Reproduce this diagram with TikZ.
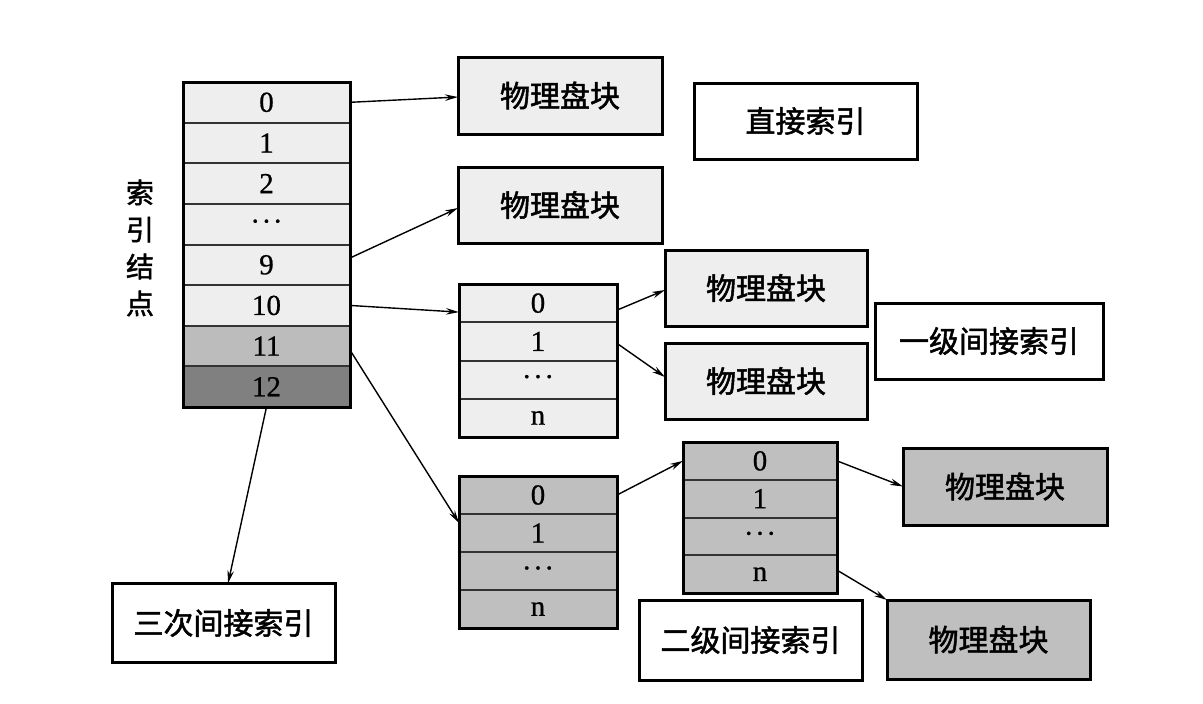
\documentclass[tikz,border=0pt]{standalone}
\usepackage{fontspec}
\setmainfont[FakeBold=0.8]{Liberation Serif}
\newfontfamily\cjk[FakeBold=1.6]{Noto Sans CJK SC}
\usetikzlibrary{arrows.meta}
\definecolor{lightg}{HTML}{EEEEEE}
\definecolor{midg}{HTML}{BFBFBF}
\definecolor{gel}{HTML}{BCBCBC}
\definecolor{darkg}{HTML}{808080}
\definecolor{divg}{HTML}{333333}
\tikzset{
  cell/.style={draw=divg, line width=2pt, fill=lightg, minimum width=#1,
    font=\fontsize{29}{29}\selectfont},
  frame/.style={draw=black, line width=3pt},
  blockbox/.style={draw=black, line width=3pt, fill=lightg,
    font=\cjk\fontsize{30}{30}\selectfont},
  labelbox/.style={draw=black, line width=3pt, fill=white,
    font=\cjk\fontsize{30}{30}\selectfont},
  arr/.style={draw=black, line width=1.4pt, -{Stealth[length=13pt,width=6.5pt]}},
}
\newcommand{\dotsrow}{\raisebox{0.22em}{.\kern4pt.\kern4pt.}}
\begin{document}
\begin{tikzpicture}[x=1pt, y=-1pt, every node/.style={inner sep=0pt, outer sep=0pt}]
\useasboundingbox[fill=white] (0,0) rectangle (1203,704);

% main index node table
\foreach \i/\t/\c in {0/0/lightg,1/1/lightg,2/2/lightg,3/\dotsrow/lightg,4/9/lightg,5/10/lightg,6/11/gel,7/12/darkg}{
  \node[cell=167pt, minimum height=40.625pt, fill=\c] (m\i) at (266.5, 82+40.625*\i+20.3125) {\t};
}
\draw[frame] (m0.north west) rectangle (m7.south east);

\node[font=\cjk\fontsize{28}{37}\selectfont, align=center] (lbl) at (140,248) {索\\引\\结\\点};

% first-level table
\foreach \i/\t in {0/0,1/1,2/\dotsrow,3/n}{
  \node[cell=158pt, minimum height=38.25pt] (a\i) at (538, 284+38.25*\i+19.125) {\t};
}
\draw[frame] (a0.north west) rectangle (a3.south east);

% second-level tables
\foreach \i/\t in {0/0,1/1,2/\dotsrow,3/n}{
  \node[cell=158pt, minimum height=38pt, fill=midg] (b\i) at (538, 476+38*\i+19) {\t};
}
\draw[frame] (b0.north west) rectangle (b3.south east);

\foreach \i/\t in {0/0,1/1,2/\dotsrow,3/n}{
  \node[cell=154pt, minimum height=37.75pt, fill=midg] (c\i) at (760, 442+37.75*\i+18.875) {\t};
}
\draw[frame] (c0.north west) rectangle (c3.south east);

% physical blocks
\node[blockbox, minimum width=204pt, minimum height=77pt] (p1) at (560,95.5) {物理盘块};
\node[blockbox, minimum width=204pt, minimum height=76pt] (p2) at (560,205) {物理盘块};
\node[blockbox, minimum width=202pt, minimum height=76pt] (p3) at (766,288) {物理盘块};
\node[blockbox, minimum width=202pt, minimum height=76pt] (p4) at (766,381) {物理盘块};
\node[blockbox, fill=midg, minimum width=204pt, minimum height=77pt] (p5) at (1005,486.5) {物理盘块};
\node[blockbox, fill=midg, minimum width=203pt, minimum height=79pt] (p6) at (988.5,639.5) {物理盘块};

% labels
\node[labelbox, minimum width=223pt, minimum height=76pt] (zj) at (805.5,121) {直接索引};
\node[labelbox, minimum width=228pt, minimum height=76pt] (yj) at (989,341) {一级间接索引};
\node[labelbox, minimum width=223pt, minimum height=80pt] (ej) at (750.5,640) {二级间接索引};
\node[labelbox, minimum width=223pt, minimum height=79pt] (sc) at (223.5,623) {三次间接索引};

% connectors
\draw[arr] (m0.east) -- ([yshift=-1.5pt]p1.west);
\draw[arr] ([yshift=6.8pt]m4.east) -- ([yshift=-3pt]p2.west);
\draw[arr] (m5.east) -- ([yshift=-9pt]a0.west);
\draw[arr] ([yshift=-4pt]m6.east) -- ([yshift=10pt]b1.west);
\draw[arr] (m7.south) -- ([xshift=4.5pt]sc.north);
\draw[arr] ([yshift=-7pt]a0.east) -- ([yshift=-2pt]p3.west);
\draw[arr] ([yshift=-2pt]a1.east) -- ([yshift=4pt]p4.west);
\draw[arr] (b0.east) -- (c0.west);
\draw[arr] (c0.east) -- (p5.west);
\draw[arr] ([yshift=4pt]c3.east) -- (p6.north west);
\end{tikzpicture}
\end{document}
